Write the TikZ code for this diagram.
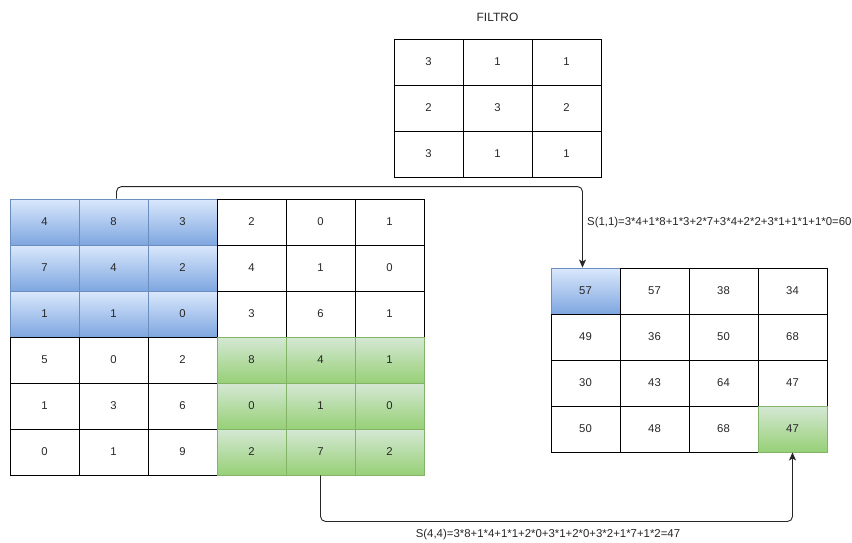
\documentclass[tikz,border=0pt]{standalone}
\usepackage{fontspec}
\setmainfont{Liberation Sans}
\usetikzlibrary{arrows.meta}

\definecolor{txt}{HTML}{262626}
\definecolor{blueTop}{HTML}{DAE8FC}
\definecolor{blueBot}{HTML}{7EA6E0}
\definecolor{blueLine}{HTML}{6C8EBF}
\definecolor{greenTop}{HTML}{D5E8D4}
\definecolor{greenBot}{HTML}{97D077}
\definecolor{greenLine}{HTML}{82B366}

\tikzset{
  cell/.style={draw=black, line width=0.9pt, minimum width=69pt, minimum height=46pt,
    inner sep=0pt, text=txt, font=\fontsize{11.3}{13}\selectfont},
  bluecell/.style={cell, draw=blueLine, top color=blueTop, bottom color=blueBot},
  greencell/.style={cell, draw=greenLine, top color=greenTop, bottom color=greenBot},
  conn/.style={draw=black!85, line width=0.9pt, rounded corners=5pt,
    -{Stealth[length=8pt, width=7pt, inset=2pt]}},
  lbl/.style={inner sep=0pt, text=txt, font=\fontsize{11.4}{13}\selectfont},
}

\begin{document}
\begin{tikzpicture}[x=1pt, y=-1pt]
  \useasboundingbox (0,0) rectangle (852,542);

  % filter 3x3
  \node[lbl, font=\fontsize{12}{14}\selectfont] (title) at (497.5,17) {FILTRO};
  \foreach \row [count=\r] in {{3,1,1},{2,3,2},{3,1,1}} {
    \foreach \v [count=\c] in \row {
      \node[cell] (f-\r-\c) at ({394+34.5+69*(\c-1)}, {39+23+46*(\r-1)}) {\v};
    }
  }

  % input 6x6, window at the top left in blue, window at the bottom right in green
  \foreach \row [count=\r] in {{4,8,3,2,0,1},{7,4,2,4,1,0},{1,1,0,3,6,1},
                               {5,0,2,8,4,1},{1,3,6,0,1,0},{0,1,9,2,7,2}} {
    \foreach \v [count=\c] in \row {
      \ifnum\r<4
        \ifnum\c<4 \def\sty{bluecell}\else\def\sty{cell}\fi
      \else
        \ifnum\c>3 \def\sty{greencell}\else\def\sty{cell}\fi
      \fi
      \node[\sty] (in-\r-\c) at ({10+34.5+69*(\c-1)}, {199+23+46*(\r-1)}) {\v};
    }
  }

  % output 4x4
  \foreach \row [count=\r] in {{57,57,38,34},{49,36,50,68},{30,43,64,47},{50,48,68,47}} {
    \foreach \v [count=\c] in \row {
      \def\sty{cell}
      \ifnum\r=1 \ifnum\c=1 \def\sty{bluecell}\fi\fi
      \ifnum\r=4 \ifnum\c=4 \def\sty{greencell}\fi\fi
      \node[\sty] (out-\r-\c) at ({551+34.5+69*(\c-1)}, {268+23+46*(\r-1)}) {\v};
    }
  }

  % connectors with their sums
  \draw[conn] ([xshift=3pt]in-1-2.north) -- ++(0,-12) -| ([xshift=-3pt]out-1-1.north);
  \node[lbl, anchor=west] (s11) at (587,223) {S(1,1)=3*4+1*8+1*3+2*7+3*4+2*2+3*1+1*1+1*0=60};

  \draw[conn] (in-6-5.south) -- ++(0,46) -| (out-4-4.south);
  \node[lbl] (s44) at (548,535) {S(4,4)=3*8+1*4+1*1+2*0+3*1+2*0+3*2+1*7+1*2=47};
\end{tikzpicture}
\end{document}
